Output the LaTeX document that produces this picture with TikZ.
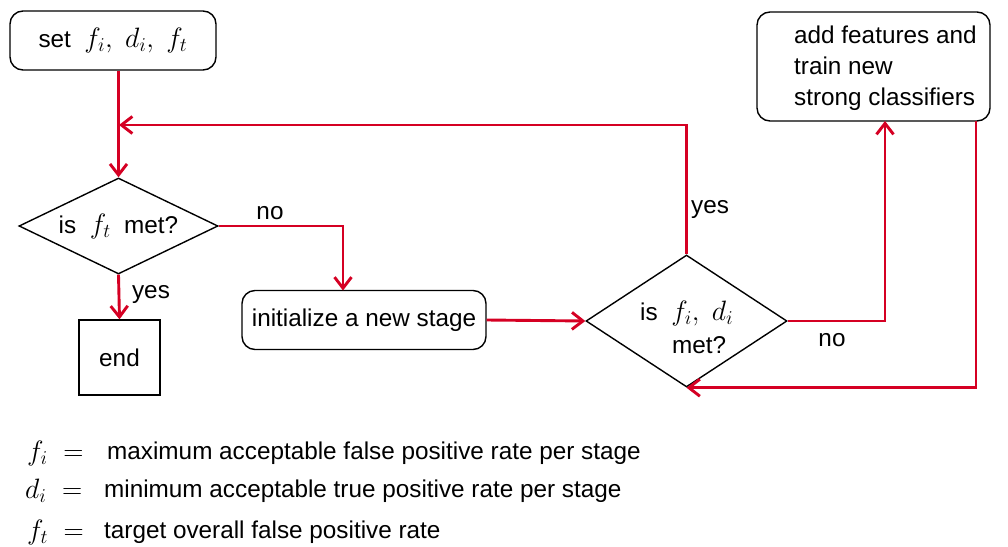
\RequirePackage{fix-cm}
\documentclass[tikz,border=0pt]{standalone}
\usepackage{fontspec}
\setmainfont{Liberation Sans}
\usetikzlibrary{shapes.geometric,arrows.meta}
\definecolor{flowred}{RGB}{213,0,35}
% symbols are set a little larger than the words around them
\newcommand{\sym}[1]{{\fontsize{28}{31}\selectfont$#1$}}
\begin{document}
\begin{tikzpicture}[x=1pt,y=-1pt,
  every node/.style={font=\fontsize{24.3}{31}\selectfont, inner sep=0pt},
  rbox/.style={draw=black, line width=1.4pt, rounded corners=13pt},
  sbox/.style={draw=black, line width=1.4pt},
  dia/.style={draw=black, line width=1.4pt, shape=diamond, inner sep=0pt},
  arr/.style={draw=flowred, line width=2.9pt, -{Straight Barb[length=11pt,width=17pt]}},
  lbl/.style={anchor=center}]
\useasboundingbox (0,0) rectangle (1008,546);

% process boxes
\node[rbox, minimum width=206pt, minimum height=59pt] (set) at (113,40.5) {};
\node at (set) {set\ \ \sym{f_i,\ d_i,\ f_t}};

\node[rbox, minimum width=244pt, minimum height=59pt] (init) at (364,320) {};
\node at (init) {initialize a new stage};

\node[sbox, minimum width=81pt, minimum height=75pt] (end) at (119.5,357.5) {};
\node at (end) {end};

\node[rbox, minimum width=233pt, minimum height=109pt] (add) at (873.5,66.5) {};
\node[align=left, anchor=west] (addtxt) at (794,68) {add features and\\train new\\strong classifiers};

% decisions
\node[dia, minimum width=199pt, minimum height=96pt] (d1) at (118.5,226) {};
\node at (d1) {is\ \ \sym{f_t}\ \ met?};

\node[dia, minimum width=201pt, minimum height=132pt] (d2) at (686.5,321) {};
\node[anchor=west] (d2a) at (640,313) {is\ \ \sym{f_i,\ d_i}};
\node[anchor=west] (d2b) at (672,345) {met?};

% connection points on box edges
\coordinate (inT) at (343,290.5);
\coordinate (addIn) at (885,121);
\coordinate (addOut) at (976,121);
\coordinate (merge) at (119,125);

% connectors
\draw[arr] (set.south -| d1.north) -- (d1.north);
\draw[arr] (d1.south) -- (end.north);
\draw[arr] (d1.east) -| (inT);
\draw[arr] (init.east) -- (d2.west);
\draw[arr] (d2.north) |- (merge);
\draw[arr] (d2.east) -| (addIn);
\draw[arr] (addOut) |- (d2.south);

% connector labels
\node[lbl] at (270,213) {no};
\node[lbl] at (151,294) {yes};
\node[lbl] at (710,209) {yes};
\node[lbl] at (832,340) {no};

% legend
\node[anchor=west] (l1m) at (27,453) {\sym{f_i\ =}};
\node[anchor=west] (l1t) at (107,453) {maximum acceptable false positive rate per stage};
\node[anchor=west] (l2m) at (25,491) {\sym{d_i\ =}};
\node[anchor=west] (l2t) at (104,491) {minimum acceptable true positive rate per stage};
\node[anchor=west] (l3m) at (27,532) {\sym{f_t\ =}};
\node[anchor=west] (l3t) at (104,532) {target overall false positive rate};
\end{tikzpicture}
\end{document}
